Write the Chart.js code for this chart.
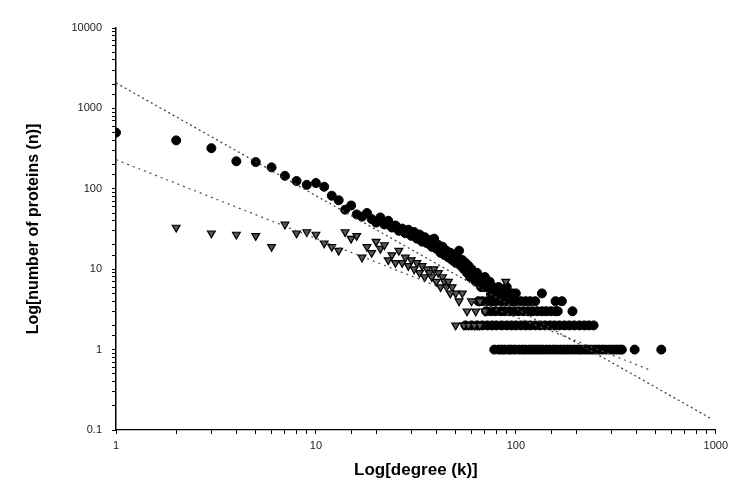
<!DOCTYPE html>
<html>
<head>
<meta charset="utf-8">
<script src="https://cdn.jsdelivr.net/npm/chart.js@4.4.0/dist/chart.umd.min.js"></script>
<style>
  html, body { margin: 0; padding: 0; background: #fff; }
  #wrap { width: 733px; height: 489px; }
</style>
</head>
<body>
<div id="wrap"><canvas id="degreeChart"></canvas></div>
<script>
// degree (k) and number of proteins (n)

// filled circles
const circleK = [1, 2, 3, 4, 5, 6, 7, 8, 9, 10, 11, 12, 13, 14, 15, 16, 17, 18, 19, 20,
  21, 22, 23, 24, 25, 26, 27, 28, 29, 30, 31, 32, 33, 34, 35, 36, 37, 38, 39, 40,
  41, 42, 43, 44, 45, 46, 47, 48, 49, 50, 51, 52, 53, 54, 55, 56, 57, 58, 59, 60,
  61, 62, 63, 64, 65, 66, 67, 68, 69, 70, 72, 74, 75, 77, 79, 82, 84, 87, 90, 93, 96, 100, 135];
const circleN = [500, 400, 320, 220, 215, 185, 145, 125, 112, 118, 106, 82, 72, 55, 62, 48, 45, 50, 42, 38,
  44, 36, 40, 33, 35, 30, 32, 28, 31, 26, 29, 24, 27, 22, 25, 21, 23, 19, 24, 18,
  20, 16, 19, 15, 17, 14, 16, 13, 15, 12, 14, 17, 11, 13, 10, 12, 9, 11, 8, 10,
  8, 9, 7, 9, 7, 8, 6, 7, 6, 8, 6, 7, 5, 6, 5, 6, 5, 5, 6, 5, 5, 5, 5];

// filled circles, flat rows at the tail
const rowK4 = [65, 68, 72, 76, 80, 85, 90, 95, 100, 106, 112, 118, 125, 158, 170];
const rowK3 = [71, 75, 79, 84, 88, 93, 98, 103, 109, 115, 121, 128, 135, 142, 150, 158, 162, 192];
const rowK2 = [56, 60, 64, 68, 72, 76, 80, 85, 90, 95, 100, 106, 112, 118, 125, 132, 140, 148,
  156, 165, 175, 185, 196, 208, 220, 232, 245];
const rowK1 = [78, 82, 85, 88, 92, 95, 99, 104, 108, 112, 117, 121, 126, 131, 136, 142, 148, 154,
  160, 167, 174, 181, 188, 196, 204, 212, 221, 230, 240, 250, 260, 271, 282, 294, 306, 318,
  330, 339, 393, 534];

// triangles
const triK = [2, 3, 4, 5, 6, 7, 8, 9, 10, 11, 12, 13, 14, 15, 16, 17, 18, 19, 20,
  21, 22, 23, 24, 25, 26, 27, 28, 29, 30, 31, 32, 33, 34, 35, 36, 37, 38, 39, 40,
  41, 42, 43, 44, 45, 46, 47, 48, 50, 52, 54, 57, 60, 63, 66, 70, 89,
  50, 55, 58, 62, 66];
const triN = [33, 28, 27, 26, 19, 36, 28, 29, 27, 21, 19, 17, 29, 24, 26, 14, 19, 16, 22,
  18, 20, 13, 15, 12, 17, 12, 14, 11, 13, 10, 12, 9, 11, 8, 10, 9, 8, 10, 7,
  9, 6, 8, 7, 6, 7, 5, 6, 5, 4, 5, 3, 4, 3, 4, 3, 7,
  2, 2, 2, 2, 2];

// power-law trend lines (end points)
const upperTrendK = [1, 966];
const upperTrendN = [2075, 0.135];
const lowerTrendK = [1, 467];
const lowerTrendN = [230, 0.56];

const xTicks = [1, 10, 100, 1000];
const yTicks = [0.1, 1, 10, 100, 1000, 10000];

function pairs(ks, ns) {
    return ks.map((k, i) => ({ x: k, y: ns[i] }));
}
function flatRow(ks, n) {
    return ks.map(k => ({ x: k, y: n }));
}

const circlePoints = pairs(circleK, circleN)
    .concat(flatRow(rowK4, 4), flatRow(rowK3, 3), flatRow(rowK2, 2), flatRow(rowK1, 1));

function decadeLabel(list) {
    return function (v) {
        const hit = list.find(t => Math.abs(Math.log10(v) - Math.log10(t)) < 1e-6);
        return hit === undefined ? '' : String(hit);
    };
}

const family = 'Liberation Sans, Arial, sans-serif';
const tickFont = { family: family, size: 11 };

const ctx = document.getElementById('degreeChart').getContext('2d');
const degreeChart = new Chart(ctx, {
    type: 'scatter',
    data: {
        datasets: [
            {
                label: 'upper trend',
                data: pairs(upperTrendK, upperTrendN),
                showLine: true,
                borderColor: '#444',
                borderWidth: 1.3,
                borderDash: [2, 3],
                pointRadius: 0
            },
            {
                label: 'lower trend',
                data: pairs(lowerTrendK, lowerTrendN),
                showLine: true,
                borderColor: '#555',
                borderWidth: 1.3,
                borderDash: [2, 4],
                pointRadius: 0
            },
            {
                label: 'triangles',
                data: pairs(triK, triN),
                pointStyle: 'triangle',
                pointRotation: 180,
                pointRadius: 4.5,
                backgroundColor: '#555',
                borderColor: '#000',
                borderWidth: 1.2
            },
            {
                label: 'circles',
                data: circlePoints,
                pointStyle: 'circle',
                pointRadius: 4.5,
                backgroundColor: '#000',
                borderColor: '#000',
                borderWidth: 1
            }
        ]
    },
    options: {
        responsive: true,
        maintainAspectRatio: false,
        animation: false,
        layout: { padding: { left: 22, right: 11, top: 28, bottom: 6 } },
        plugins: { legend: { display: false }, tooltip: { enabled: false } },
        scales: {
            x: {
                type: 'logarithmic',
                min: 1,
                max: 1000,
                afterFit: s => { s.height = 53; },
                border: { display: true, color: '#000', width: 1.2, dash: [2, 2] },
                grid: { display: true, drawOnChartArea: false, drawTicks: true, tickLength: 4, color: '#000' },
                ticks: { autoSkip: false, maxRotation: 0, padding: 5, color: '#222', font: tickFont,
                    callback: decadeLabel(xTicks) },
                title: { display: true, text: 'Log[degree (k)]', color: '#000',
                    font: { family: family, size: 17, weight: 'bold' },
                    padding: { top: 2, bottom: 2 } }
            },
            y: {
                type: 'logarithmic',
                min: 0.1,
                max: 10000,
                afterFit: s => { s.width = 94; },
                border: { display: true, color: '#000', width: 1.5 },
                grid: { display: true, drawOnChartArea: false, drawTicks: true, tickLength: 4, color: '#000' },
                ticks: { autoSkip: false, padding: 10, color: '#222', font: tickFont,
                    callback: decadeLabel(yTicks) },
                title: { display: true, text: 'Log[number of proteins (n)]', color: '#000',
                    font: { family: family, size: 16, weight: 'bold' },
                    padding: { top: 2, bottom: 4 } }
            }
        }
    }
});
</script>
</body>
</html>
